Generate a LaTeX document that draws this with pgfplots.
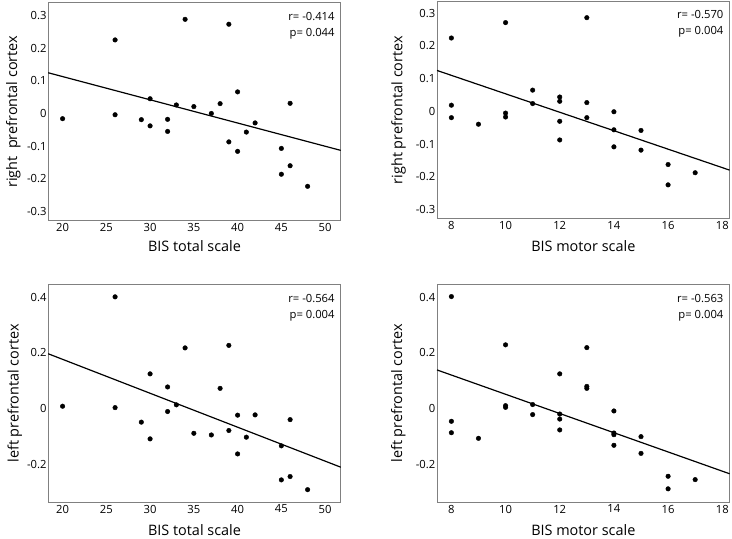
\documentclass[border=0pt]{standalone}
\usepackage{pgfplots}
\pgfplotsset{compat=1.18}
\usepackage{fontspec}
\setmainfont{Open Sans}
\definecolor{framegray}{HTML}{808080}
\newcommand{\labfont}{\fontsize{14.5}{16}\selectfont}
\newcommand{\tickfont}{\fontsize{11.3}{12}\selectfont}
\pgfplotsset{
  panel/.style={
    scale only axis, width=293bp, height=218bp,
    /pgf/number format/assume math mode=true,
    axis line style={framegray, line width=1bp},
    major tick length=0pt, tick style={draw=none},
    ticklabel style={font=\tickfont},
    yticklabel style={inner xsep=1.5bp},
    xticklabel style={inner ysep=2.5bp},
  },
  totalx/.style={xmin=18.36, xmax=51.79, xtick={20,25,...,50},
    xticklabels={20,25,30,35,40,45,50}},
  motorx/.style={xmin=7.47, xmax=18.27, xtick={8,10,...,18},
    xticklabels={8,10,12,14,16,18}},
  righty/.style={ymin=-0.328, ymax=0.338, ytick={-0.3,-0.2,-0.1,0,0.1,0.2,0.3},
    yticklabels={-0.3,-0.2,-0.1,0,0.1,0.2,0.3}},
  lefty/.style={ymin=-0.335, ymax=0.445, ytick={-0.2,0,0.2,0.4},
    yticklabels={-0.2,0,0.2,0.4}},
  dots/.style={only marks, mark=*, mark size=2.3bp, black},
  fit/.style={black, line width=1.2bp, no marks},
}
\newcommand{\stats}[2]{%
  \node[anchor=east, font=\tickfont, inner sep=0pt] at ([xshift=-6bp,yshift=-13.5bp]rel axis cs:1,1) {r= #1};
  \node[anchor=east, font=\tickfont, inner sep=0pt] at ([xshift=-6bp,yshift=-31bp]rel axis cs:1,1) {p= #2};
}
\newcommand{\xlab}[2]{\node[anchor=center, font=\labfont] at (axis description cs:0.5,#2) {#1};}
\newcommand{\ylab}[2]{\node[anchor=center, rotate=90, font=\labfont] at (axis description cs:#2,0.5) {#1};}
\begin{document}
\begin{tikzpicture}
\path (0,0) rectangle (732bp,537bp);
% Panel 1
\begin{axis}[panel, totalx, righty, at={(48.3bp,316bp)}, anchor=south west, clip=false]
\addplot[dots] coordinates {
(20,-0.016) (26,0.225) (26,-0.004) (34,0.288) (39,0.273) (29,-0.019)
(30,0.045) (30,-0.038) (32,-0.018) (32,-0.055) (33,0.026) (35,0.021)
(37,0.0) (38,0.030) (39,-0.087) (40,0.066) (40,-0.116) (41,-0.057)
(42,-0.029) (45,-0.107) (45,-0.186) (46,0.031) (46,-0.160) (48,-0.223)};
\addplot[fit] coordinates {(18.36,0.1245) (51.79,-0.113)};
\stats{-0.414}{0.044}
\xlab{BIS total scale}{-0.118}
\ylab{right\ \ prefrontal cortex}{-0.119}
\end{axis}
% Panel 2
\begin{axis}[panel, motorx, righty, ymin=-0.328, ymax=0.336, at={(437.7bp,317.7bp)}, anchor=south west, clip=false]
\addplot[dots] coordinates {
(8,0.224) (8,0.019) (8,-0.019) (9,-0.039) (10,0.271) (10,-0.005)
(10,-0.017) (11,0.065) (11,0.024) (12,0.044) (12,0.031) (12,-0.030)
(12,-0.087) (13,0.286) (13,0.027) (13,-0.019) (14,-0.001) (14,-0.056)
(14,-0.108) (15,-0.058) (15,-0.118) (16,-0.162) (16,-0.224) (17,-0.187)};
\addplot[fit] coordinates {(7.47,0.125) (18.27,-0.179)};
\stats{-0.570}{0.004}
\xlab{BIS motor scale}{-0.126}
\ylab{right prefrontal cortex}{-0.131}
\end{axis}
% Panel 3
\begin{axis}[panel, totalx, lefty, at={(48.3bp,34bp)}, anchor=south west, clip=false]
\addplot[dots] coordinates {
(20,0.009) (26,0.401) (26,0.004) (34,0.218) (39,0.227) (29,-0.048)
(30,0.125) (30,-0.108) (32,0.078) (32,-0.010) (33,0.014) (35,-0.088)
(37,-0.094) (38,0.073) (39,-0.078) (40,-0.023) (40,-0.162) (41,-0.102)
(42,-0.022) (45,-0.133) (45,-0.255) (46,-0.039) (46,-0.243) (48,-0.290)};
\addplot[fit] coordinates {(18.36,0.197) (51.79,-0.2095)};
\stats{-0.564}{0.004}
\xlab{BIS total scale}{-0.128}
\ylab{left prefrontal cortex}{-0.114}
\end{axis}
% Panel 4
\begin{axis}[panel, motorx, lefty, at={(437.7bp,34bp)}, anchor=south west, clip=false]
\addplot[dots] coordinates {
(8,0.402) (8,-0.045) (8,-0.086) (9,-0.106) (10,0.229) (10,0.011)
(10,0.005) (11,0.015) (11,-0.021) (12,0.125) (12,-0.019) (12,-0.037)
(12,-0.076) (13,0.219) (13,0.080) (13,0.073) (14,-0.008) (14,-0.087)
(14,-0.093) (14,-0.131) (15,-0.100) (15,-0.160) (16,-0.242) (16,-0.287)
(17,-0.254)};
\addplot[fit] coordinates {(7.47,0.139) (18.27,-0.233)};
\stats{-0.563}{0.004}
\xlab{BIS motor scale}{-0.128}
\ylab{left prefrontal cortex}{-0.132}
\end{axis}
\end{tikzpicture}
\end{document}
